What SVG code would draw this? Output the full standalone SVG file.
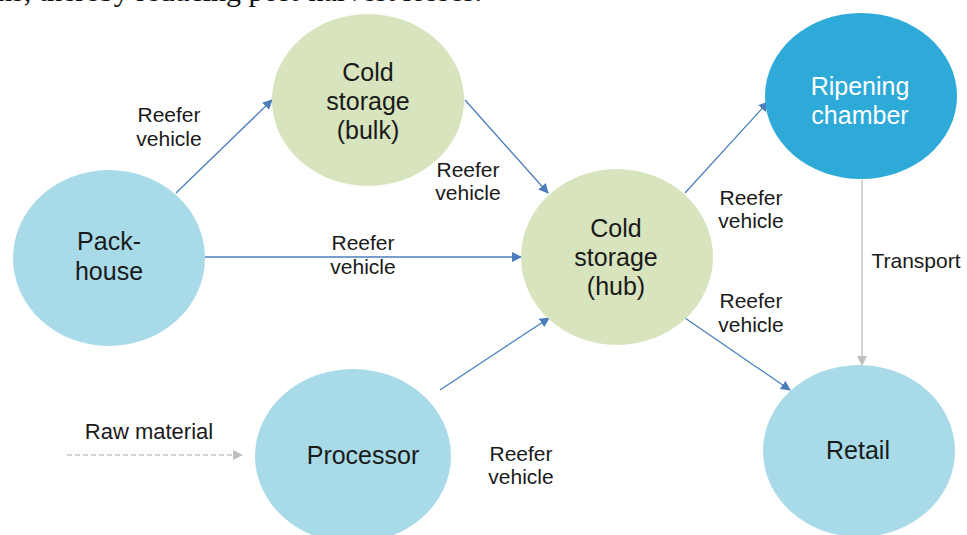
<svg xmlns="http://www.w3.org/2000/svg" width="967" height="535" viewBox="0 0 967 535">
  <defs>
    <marker id="arrowBlue" viewBox="0 0 10 10" refX="9" refY="5" markerWidth="10" markerHeight="10" markerUnits="userSpaceOnUse" orient="auto">
      <path d="M0,0 L10,5 L0,10 z" fill="#4a7ebb"/>
    </marker>
    <marker id="arrowGray" viewBox="0 0 10 10" refX="9" refY="5" markerWidth="10" markerHeight="10" markerUnits="userSpaceOnUse" orient="auto">
      <path d="M0,0 L10,5 L0,10 z" fill="#bfbfbf"/>
    </marker>
  </defs>
  <style>
    .node-lb { fill: #a8dae8; }
    .node-gr { fill: #d7e4bd; }
    .node-db { fill: #2eaad9; }
    .lbl { font-family: "Liberation Sans", Arial, sans-serif; font-size: 25px; fill: #1a1a1a; text-anchor: middle; }
    .lbl-w { fill: #ffffff; }
    .edge-lbl { font-family: "Liberation Sans", Arial, sans-serif; font-size: 21px; fill: #1a1a1a; text-anchor: middle; }
    .conn { stroke: #4a7ebb; stroke-width: 1.3; fill: none; marker-end: url(#arrowBlue); }
    .conn-gray { stroke: #c4c4c4; stroke-width: 1.5; fill: none; marker-end: url(#arrowGray); }
    .body { font-family: "Liberation Serif", "Times New Roman", serif; font-size: 30px; fill: #111; }
  </style>

  <rect width="967" height="535" fill="#ffffff"/>

  <!-- running text from the page above the figure -->
  <text class="body" x="-3" y="1">ns, thereby reducing post-harvest losses.</text>

  <g id="connectors">
    <line class="conn" x1="176" y1="193" x2="272" y2="100"/>
    <line class="conn" x1="205" y1="257" x2="521" y2="257"/>
    <line class="conn" x1="465" y1="100" x2="548" y2="193"/>
    <line class="conn" x1="440" y1="390" x2="549" y2="318"/>
    <line class="conn" x1="685" y1="193" x2="768" y2="102"/>
    <line class="conn" x1="685" y1="318" x2="790" y2="390"/>
    <line class="conn-gray" x1="862" y1="180" x2="862" y2="365"/>
    <line class="conn-gray" x1="67" y1="455" x2="242" y2="455" stroke-dasharray="5,3"/>
  </g>

  <g id="edge-labels">
    <text class="edge-lbl" x="169" y="122">Reefer</text>
    <text class="edge-lbl" x="169" y="146">vehicle</text>
    <text class="edge-lbl" x="468" y="177">Reefer</text>
    <text class="edge-lbl" x="468" y="200">vehicle</text>
    <text class="edge-lbl" x="363" y="250">Reefer</text>
    <text class="edge-lbl" x="363" y="274">vehicle</text>
    <text class="edge-lbl" x="751" y="205">Reefer</text>
    <text class="edge-lbl" x="751" y="228">vehicle</text>
    <text class="edge-lbl" x="751" y="308">Reefer</text>
    <text class="edge-lbl" x="751" y="332">vehicle</text>
    <text class="edge-lbl" x="521" y="461">Reefer</text>
    <text class="edge-lbl" x="521" y="484">vehicle</text>
    <text class="edge-lbl" x="916" y="268">Transport</text>
    <text class="edge-lbl" x="149" y="439" style="font-size:22px">Raw material</text>
  </g>

  <g id="pack-house">
    <ellipse class="node-lb" cx="109" cy="258" rx="96" ry="88"/>
    <text class="lbl" x="109" y="250">Pack-</text>
    <text class="lbl" x="109" y="280">house</text>
  </g>

  <g id="cold-storage-bulk">
    <ellipse class="node-gr" cx="368" cy="100" rx="96" ry="86"/>
    <text class="lbl" x="368" y="81">Cold</text>
    <text class="lbl" x="368" y="110">storage</text>
    <text class="lbl" x="368" y="139">(bulk)</text>
  </g>

  <g id="cold-storage-hub">
    <ellipse class="node-gr" cx="617" cy="257" rx="96" ry="88"/>
    <text class="lbl" x="616" y="237">Cold</text>
    <text class="lbl" x="616" y="266">storage</text>
    <text class="lbl" x="616" y="295">(hub)</text>
  </g>

  <g id="ripening-chamber">
    <ellipse class="node-db" cx="861" cy="96" rx="96" ry="83"/>
    <text class="lbl lbl-w" x="860" y="95">Ripening</text>
    <text class="lbl lbl-w" x="860" y="124">chamber</text>
  </g>

  <g id="processor">
    <ellipse class="node-lb" cx="353" cy="456" rx="98" ry="87"/>
    <text class="lbl" x="363" y="464">Processor</text>
  </g>

  <g id="retail">
    <ellipse class="node-lb" cx="859" cy="451" rx="96" ry="86"/>
    <text class="lbl" x="858" y="459">Retail</text>
  </g>
</svg>
